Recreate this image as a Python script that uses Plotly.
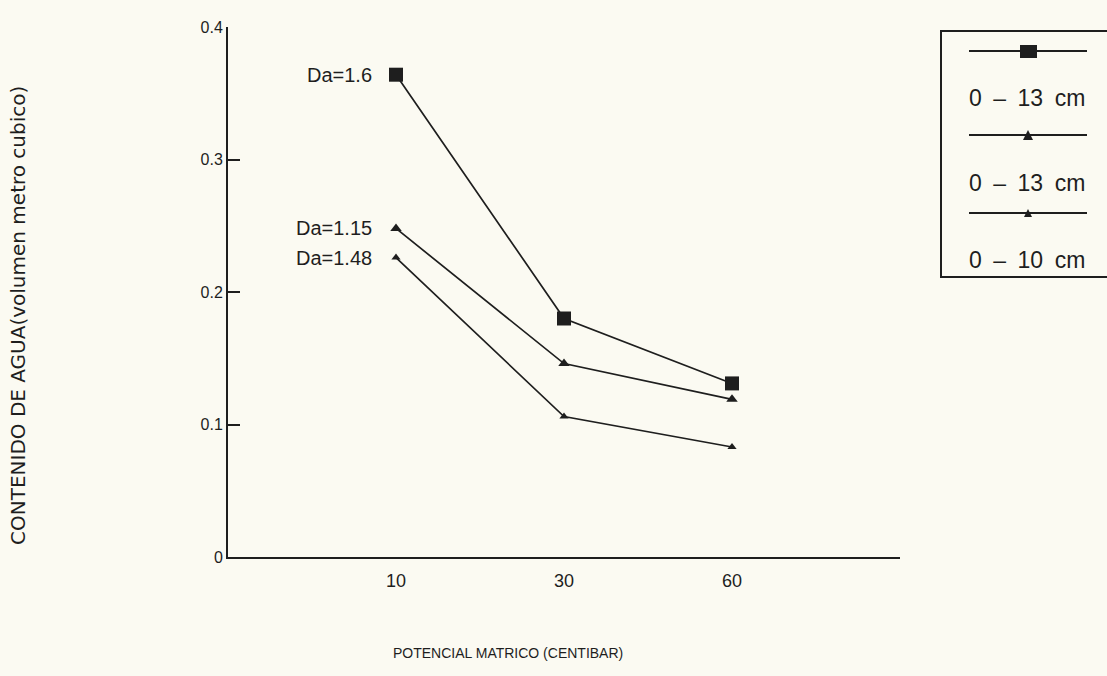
import plotly.graph_objects as go

# ---- data ----
potencial = ["10", "30", "60"]          # centibar (tick labels)
da_16 = [0.364, 0.180, 0.131]           # Da=1.6  (0-13 cm)
da_115 = [0.248, 0.146, 0.119]          # Da=1.15 (0-13 cm)
da_148 = [0.226, 0.106, 0.083]          # Da=1.48 (0-10 cm)
series_labels = ["Da=1.6", "Da=1.15", "Da=1.48"]
legend_labels = ["0\u2002\u2013\u200213\u2002cm", "0\u2002\u2013\u200213\u2002cm", "0\u2002\u2013\u200210\u2002cm"]
y_ticks = [0, 0.1, 0.2, 0.3, 0.4]
y_ticktext = ["0", "0.1", "0.2", "0.3", "0.4"]

INK = "#1e1e1e"
BG = "#fbfaf2"
FONT = "Liberation Sans"

xpos = list(range(1, len(potencial) + 1))

fig = go.Figure()
styles = [
    dict(symbol="square", size=14),
    dict(symbol="triangle-up", size=10),
    dict(symbol="triangle-up", size=8),
]
for vals, st in zip([da_16, da_115, da_148], styles):
    fig.add_trace(go.Scatter(
        x=xpos, y=vals, mode="lines+markers",
        line=dict(color=INK, width=1.7),
        marker=dict(color=INK, symbol=st["symbol"], size=st["size"],
                    line=dict(width=0)),
        showlegend=False, hoverinfo="skip",
    ))

annotations = []
for lab, vals in zip(series_labels, [da_16, da_115, da_148]):
    annotations.append(dict(
        x=xpos[0], y=vals[0], xref="x", yref="y", text=lab,
        showarrow=False, xanchor="right", yanchor="middle", xshift=-22,
        font=dict(family=FONT, size=20, color=INK)))

fig.update_layout(
    width=1107, height=676,
    margin=dict(l=228, r=207, t=27, b=119),
    paper_bgcolor=BG, plot_bgcolor=BG,
    xaxis=dict(range=[0, 4], tickvals=xpos, ticktext=potencial,
               showgrid=False, zeroline=False, showline=True,
               linecolor=INK, linewidth=2, ticks="", ticklabelstandoff=6,
               tickfont=dict(family=FONT, size=18, color=INK)),
    yaxis=dict(range=[0, 0.4], tickvals=y_ticks, ticktext=y_ticktext,
               showgrid=False, zeroline=False, showline=True,
               linecolor=INK, linewidth=2, ticks="inside", ticklen=12,
               tickwidth=1.5, tickcolor=INK,
               tickfont=dict(family=FONT, size=16, color=INK)),
    font=dict(family=FONT, color=INK),
)

# convert pixel positions to paper coords for layout-only elements
pw = 1107 - 228 - 207
ph = 676 - 27 - 119
def px(x):
    return (x - 228) / pw
def py(y):
    return (676 - 119 - y) / ph

annotations.append(dict(
    x=px(508), y=py(653), xref="paper", yref="paper", text="POTENCIAL MATRICO (CENTIBAR)",
    showarrow=False, xanchor="center", yanchor="middle",
    font=dict(family=FONT, size=14, color=INK)))
annotations.append(dict(
    x=px(18), y=py(316), xref="paper", yref="paper",
    text="CONTENIDO DE AGUA(volumen metro cubico)", textangle=-90,
    showarrow=False, xanchor="center", yanchor="middle",
    font=dict(family="DejaVu Sans", size=20, color=INK)))

shapes = []
# legend box (drawn as layout shapes)
shapes.append(dict(type="rect", xref="paper", yref="paper",
                   x0=px(941), x1=px(1112), y0=py(277), y1=py(31),
                   line=dict(color=INK, width=2), fillcolor=BG, layer="below"))
leg_line_y = [51, 135, 213]
leg_text_y = [98, 183, 260]
for i, (ly, ty, lab) in enumerate(zip(leg_line_y, leg_text_y, legend_labels)):
    shapes.append(dict(type="line", xref="paper", yref="paper",
                       x0=px(969), x1=px(1087), y0=py(ly), y1=py(ly),
                       line=dict(color=INK, width=2)))
    if i == 0:
        shapes.append(dict(type="rect", xref="paper", yref="paper",
                           x0=px(1020), x1=px(1037), y0=py(ly + 7), y1=py(ly - 6),
                           line=dict(width=0), fillcolor=INK))
    else:
        s = 5 if i == 1 else 4
        path = "M {} {} L {} {} L {} {} Z".format(
            px(1028 - s), py(ly + s), px(1028 + s), py(ly + s), px(1028), py(ly - s))
        shapes.append(dict(type="path", xref="paper", yref="paper", path=path,
                           line=dict(width=0), fillcolor=INK))
    annotations.append(dict(
        x=px(1027), y=py(ty), xref="paper", yref="paper", text=lab,
        showarrow=False, xanchor="center", yanchor="middle",
        font=dict(family=FONT, size=23, color=INK)))

fig.update_layout(annotations=annotations, shapes=shapes)
fig.write_html(
    "out.html",
    config={"displayModeBar": False},
    post_script="document.body.style.margin='0px';document.body.style.background='%s';" % BG,
)
